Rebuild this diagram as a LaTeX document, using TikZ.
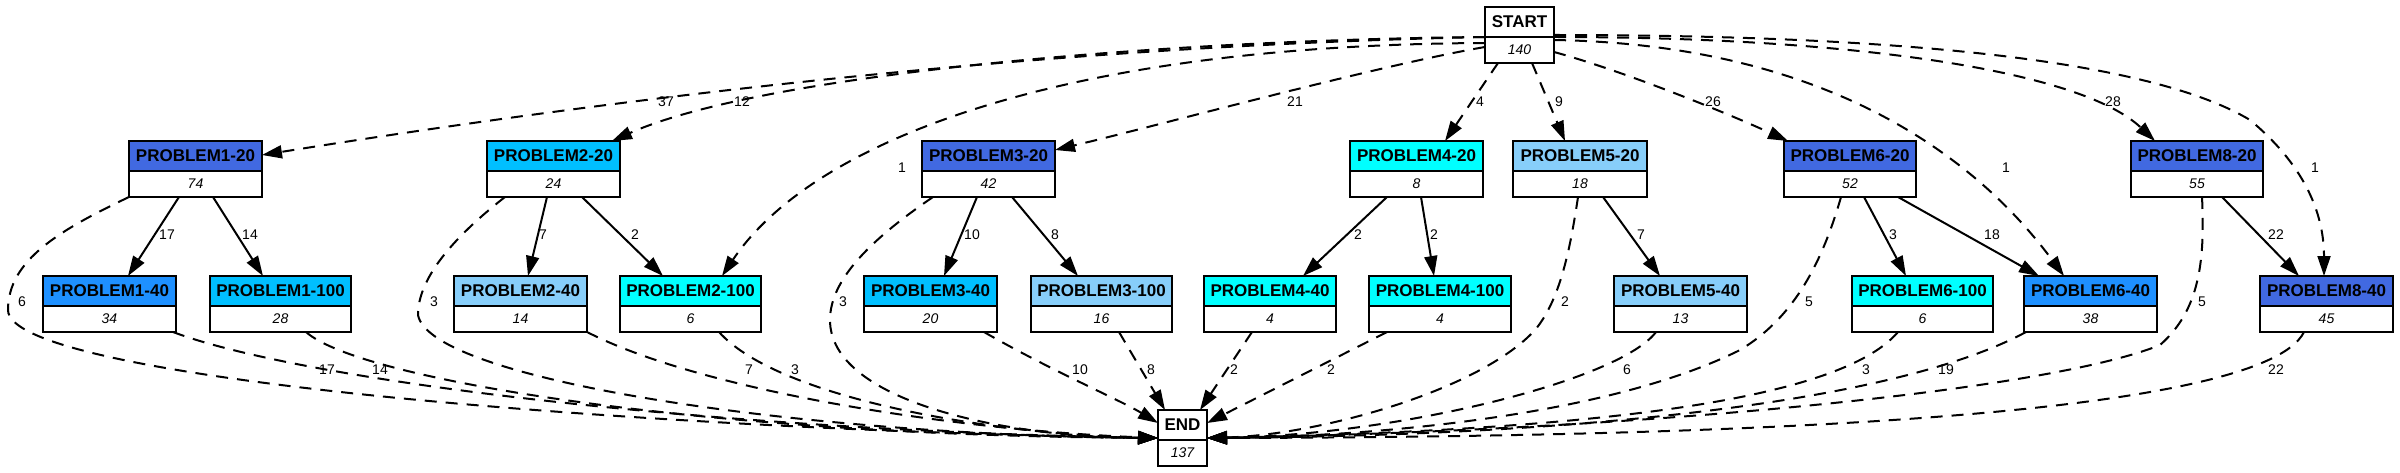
\documentclass[tikz,border=0pt]{standalone}
\usepackage{fontspec}
\setmainfont{Liberation Sans}
\usetikzlibrary{arrows.meta}
\definecolor{royal}{HTML}{4169E1}
\definecolor{deepsky}{HTML}{00BFFF}
\definecolor{cyanc}{HTML}{00FFFF}
\definecolor{lightsky}{HTML}{87CEFA}
\definecolor{dodger}{HTML}{1E90FF}
\tikzset{
  box/.style={draw, line width=2pt, inner sep=0pt, outer sep=0pt, minimum height=56pt, fill=white},
  hdrfill/.style={path picture={\fill[#1] (path picture bounding box.north west) rectangle ([yshift=-30pt]path picture bounding box.north east);
     \draw[line width=2pt] ([yshift=-30pt]path picture bounding box.north west) -- ([yshift=-30pt]path picture bounding box.north east);}},
  hdrtxt/.style={inner sep=0pt, font=\fontsize{17}{20}\selectfont\bfseries},
  numtxt/.style={inner sep=0pt, font=\fontsize{14}{16}\selectfont\itshape},
  lbl/.style={inner sep=0pt, font=\fontsize{14}{16}\selectfont},
  sol/.style={line width=2pt, -{Triangle[length=20pt,width=13pt]}},
  das/.style={line width=2pt, dash pattern=on 12pt off 9pt, -{Triangle[length=20pt,width=13pt]}},
}
\newcommand\pbx[7]{%
  \node[box, minimum width=#3pt, hdrfill=#5] (#1) at (#2,#4) {};
  \node[hdrtxt] (#1h) at ([yshift=-15pt]#1.north) {#6};
  \node[numtxt] (#1n) at ([yshift=13pt]#1.south) {#7};}
\begin{document}
\begin{tikzpicture}[x=1pt,y=-1pt]
\useasboundingbox (0,0) rectangle (2400,473);
% nodes
\pbx{st}{1519.5}{69}{35}{white}{START}{140}
\pbx{en}{1182.5}{49}{438}{white}{END}{137}
\pbx{pa}{195.5}{133}{169}{royal}{PROBLEM1-20}{74}
\pbx{pb}{553.5}{133}{169}{deepsky}{PROBLEM2-20}{24}
\pbx{pc}{988.5}{133}{169}{royal}{PROBLEM3-20}{42}
\pbx{pd}{1416.5}{133}{169}{cyanc}{PROBLEM4-20}{8}
\pbx{pe}{1580}{134}{169}{lightsky}{PROBLEM5-20}{18}
\pbx{pf}{1850}{132}{169}{royal}{PROBLEM6-20}{52}
\pbx{pg}{2197}{132}{169}{royal}{PROBLEM8-20}{55}
\pbx{qa}{109.5}{133}{304}{dodger}{PROBLEM1-40}{34}
\pbx{qb}{280.5}{141}{304}{deepsky}{PROBLEM1-100}{28}
\pbx{qc}{520.5}{133}{304}{lightsky}{PROBLEM2-40}{14}
\pbx{qd}{690.5}{141}{304}{cyanc}{PROBLEM2-100}{6}
\pbx{qe}{930.5}{133}{304}{deepsky}{PROBLEM3-40}{20}
\pbx{qf}{1101.5}{141}{304}{lightsky}{PROBLEM3-100}{16}
\pbx{qg}{1270}{132}{304}{cyanc}{PROBLEM4-40}{4}
\pbx{qh}{1440}{142}{304}{cyanc}{PROBLEM4-100}{4}
\pbx{qi}{1680.5}{133}{304}{lightsky}{PROBLEM5-40}{13}
\pbx{qj}{1922.5}{141}{304}{cyanc}{PROBLEM6-100}{6}
\pbx{qk}{2090.5}{133}{304}{dodger}{PROBLEM6-40}{38}
\pbx{ql}{2326.5}{133}{304}{royal}{PROBLEM8-40}{45}
% START edges
\draw[das] ([yshift=-2pt]st.west) .. controls (1100,45) and (700,85) .. ([yshift=14pt]pa.east);
\draw[das] ([yshift=-2pt]st.west) .. controls (1150,40) and (760,75) .. ([xshift=58.5pt]pb.north);
\draw[das] ([yshift=-8pt]st.west) .. controls (1050,45) and (810,145) .. ([xshift=31.5pt]qd.north);
\draw[das] ([yshift=-12pt]st.west) .. controls (1380,65) and (1160,125) .. ([yshift=19pt]pc.east);
\draw[das] ([xshift=-21.5pt]st.south) -- ([xshift=28.5pt]pd.north);
\draw[das] ([xshift=12.5pt]st.south) -- ([xshift=-15pt]pe.north);
\draw[das] ([yshift=-17pt]st.east) .. controls (1620,70) and (1720,110) .. ([xshift=-62pt]pf.north);
\draw[das] ([yshift=-5pt]st.east) .. controls (1850,45) and (1990,176) .. ([xshift=-26.5pt]qk.north);
\draw[das] ([yshift=-2pt]st.east) .. controls (1850,37) and (2080,70) .. ([xshift=-42pt]pg.north);
\draw[das] (st.east) .. controls (1900,35) and (2150,60) .. (2250,120) .. controls (2310,170) and (2324,220) .. ([xshift=-2.5pt]ql.north);
% solid edges
\draw[sol] ([xshift=-16.5pt]pa.south) -- ([xshift=18.5pt]qa.north);
\draw[sol] ([xshift=17.5pt]pa.south) -- ([xshift=-17.5pt]qb.north);
\draw[sol] ([xshift=-6.5pt]pb.south) -- ([xshift=7.5pt]qc.north);
\draw[sol] ([xshift=28.5pt]pb.south) -- ([xshift=-27.5pt]qd.north);
\draw[sol] ([xshift=-11.5pt]pc.south) -- ([xshift=13.5pt]qe.north);
\draw[sol] ([xshift=23.5pt]pc.south) -- ([xshift=-23.5pt]qf.north);
\draw[sol] ([xshift=-29.5pt]pd.south) -- ([xshift=33pt]qg.north);
\draw[sol] ([xshift=4.5pt]pd.south) -- ([xshift=-6pt]qh.north);
\draw[sol] ([xshift=23pt]pe.south) -- ([xshift=-20.5pt]qi.north);
\draw[sol] ([xshift=14pt]pf.south) -- ([xshift=-16.5pt]qj.north);
\draw[sol] ([xshift=48pt]pf.south) -- ([xshift=-51.5pt]qk.north);
\draw[sol] ([xshift=25pt]pg.south) -- ([xshift=-27.5pt]ql.north);
% edges to END
\draw[das] (pa.south west) .. controls (60,230) and (8,260) .. (8,310) .. controls (8,380) and (650,430) .. (en.west);
\draw[das] ([xshift=-3pt]qa.south east) .. controls (300,380) and (700,430) .. (en.west);
\draw[das] ([xshift=25.5pt]qb.south) .. controls (360,380) and (700,435) .. (en.west);
\draw[das] ([xshift=-48.5pt]pb.south) .. controls (450,240) and (418,280) .. (418,315) .. controls (430,380) and (800,435) .. (en.west);
\draw[das] (qc.south east) .. controls (700,390) and (950,430) .. (en.west);
\draw[das] ([xshift=28.5pt]qd.south) .. controls (780,400) and (1000,435) .. (en.west);
\draw[das] ([xshift=-55.5pt]pc.south) .. controls (870,240) and (830,280) .. (830,320) .. controls (830,400) and (1000,437) .. (en.west);
\draw[das] ([xshift=53.5pt]qe.south) .. controls (1050,370) and (1120,400) .. ([yshift=15pt]en.west);
\draw[das] ([xshift=17.5pt]qf.south) -- ([xshift=-17.5pt]en.north);
\draw[das] ([xshift=-18pt]qg.south) -- ([xshift=17.5pt]en.north);
\draw[das] ([xshift=-53pt]qh.south) -- ([yshift=15pt]en.east);
\draw[das] ([xshift=-2pt]pe.south) .. controls (1570,250) and (1560,300) .. (1535,330) .. controls (1480,390) and (1320,435) .. (en.east);
\draw[das] ([xshift=-24.5pt]qi.south) .. controls (1620,380) and (1400,435) .. (en.east);
\draw[das] ([xshift=-9pt]pf.south) .. controls (1820,270) and (1790,320) .. (1740,350) .. controls (1600,420) and (1350,437) .. (en.east);
\draw[das] ([xshift=-24.5pt]qj.south) .. controls (1840,400) and (1600,430) .. (en.east);
\draw[das] ([xshift=-64.5pt]qk.south) .. controls (1900,400) and (1600,435) .. (en.east);
\draw[das] ([xshift=5pt]pg.south) .. controls (2205,260) and (2200,310) .. (2160,345) .. controls (2050,390) and (1650,430) .. (en.east);
\draw[das] ([xshift=-22.5pt]ql.south) .. controls (2260,420) and (1700,437) .. (en.east);
% labels
\node[lbl] (l1) at (666,102) {37};
\node[lbl] (l2) at (742,102) {12};
\node[lbl] (l3) at (902,168) {1};
\node[lbl] (l4) at (1295,102) {21};
\node[lbl] (l5) at (1480,102) {4};
\node[lbl] (l6) at (1559,102) {9};
\node[lbl] (l7) at (1713,102) {26};
\node[lbl] (l8) at (2006,168) {1};
\node[lbl] (l9) at (2113,102) {28};
\node[lbl] (l10) at (2315,168) {1};
\node[lbl] (l11) at (167,235) {17};
\node[lbl] (l12) at (250,235) {14};
\node[lbl] (l13) at (543,235) {7};
\node[lbl] (l14) at (635,235) {2};
\node[lbl] (l15) at (972,235) {10};
\node[lbl] (l16) at (1055,235) {8};
\node[lbl] (l17) at (1358,235) {2};
\node[lbl] (l18) at (1434,235) {2};
\node[lbl] (l19) at (1641,235) {7};
\node[lbl] (l20) at (1893,235) {3};
\node[lbl] (l21) at (1992,235) {18};
\node[lbl] (l22) at (2276,235) {22};
\node[lbl] (l23) at (22,302) {6};
\node[lbl] (l24) at (434,302) {3};
\node[lbl] (l25) at (843,302) {3};
\node[lbl] (l26) at (1565,302) {2};
\node[lbl] (l27) at (1809,302) {5};
\node[lbl] (l28) at (2202,302) {5};
\node[lbl] (l29) at (327,370) {17};
\node[lbl] (l30) at (380,370) {14};
\node[lbl] (l31) at (749,370) {7};
\node[lbl] (l32) at (795,370) {3};
\node[lbl] (l33) at (1080,370) {10};
\node[lbl] (l34) at (1151,370) {8};
\node[lbl] (l35) at (1234,370) {2};
\node[lbl] (l36) at (1331,370) {2};
\node[lbl] (l37) at (1627,370) {6};
\node[lbl] (l38) at (1866,370) {3};
\node[lbl] (l39) at (1946,370) {19};
\node[lbl] (l40) at (2276,370) {22};
\end{tikzpicture}
\end{document}
